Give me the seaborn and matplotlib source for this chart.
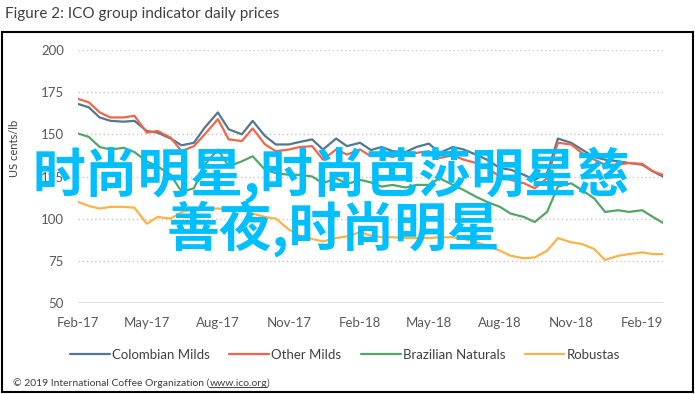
import matplotlib.pyplot as plt
import matplotlib.dates as mdates
import matplotlib.patches as mpatches
import pandas as pd
import seaborn as sns

# semi-monthly readings, 1st and 15th of each month, Feb 2017 - Feb 2019
dates = pd.date_range("2017-02-01", periods=50, freq="SMS").append(pd.DatetimeIndex(["2019-02-28"]))

colombian_milds = [168, 166, 160, 158, 157.5, 158, 152, 151, 147.5, 143.5,
                   145, 154, 163, 153, 150, 158, 149, 144, 144, 145.5,
                   147, 141, 147.5, 143, 145, 140.7, 142.5, 140, 139.5, 142.5,
                   144.5, 139, 142.5, 141, 138, 135, 130, 129, 126, 123,
                   127, 147.5, 145, 141, 136.5, 135, 134, 133, 132, 128, 125]
other_milds = [171, 169, 163, 160, 160, 161, 151, 152, 148, 140,
               143, 150, 159, 147, 146, 153.5, 144, 140, 141, 142.5,
               143, 135, 141, 138, 141, 137, 138, 136.5, 139, 139,
               140, 136, 137.5, 135, 133, 130, 125, 123, 121, 118,
               124, 145, 144, 139, 135, 132, 132, 133, 132.5, 128, 126]
brazilian_naturals = [150.5, 148.5, 142.5, 141, 142, 139.5, 134, 131, 126, 116,
                      118, 132, 141, 131, 134, 137, 129, 127, 126, 126,
                      125, 121, 124, 120.5, 123, 121.5, 119, 120, 118.5, 120,
                      120, 124, 120, 117, 113, 110, 107, 103, 101, 98,
                      104, 119, 121, 117, 112, 104, 105, 104, 105, 101, 97.5]
robustas = [110, 107.5, 106, 107, 107, 106.5, 97, 101, 100, 104,
            105.5, 106, 106, 105.5, 105, 103, 101, 100, 93.5, 90,
            88, 86.5, 88.5, 89.5, 92, 90, 89, 89, 88.5, 88.5,
            88.5, 89, 89, 88, 86, 84, 81, 78, 76.5, 77,
            81, 88.5, 86, 85, 82, 75.5, 78, 79, 80, 79, 79]

series_names = ["Colombian Milds", "Other Milds", "Brazilian Naturals", "Robustas"]
series_colors = ["#52788F", "#F26549", "#55A566", "#F9B347"]
y_ticks = [50, 75, 100, 125, 150, 175, 200]
x_ticks = pd.date_range("2017-02-01", "2019-02-01", freq="3MS")

overlay_line1 = "时尚明星,时尚芭莎明星慈"
overlay_line2 = "善夜,时尚明星"

df = pd.DataFrame({
    "date": list(dates) * 4,
    "price": colombian_milds + other_milds + brazilian_naturals + robustas,
    "series": [n for n in series_names for _ in range(len(dates))],
})

sns.set_style("white")
plt.rcParams["font.family"] = ["Lato", "Noto Sans CJK SC", "DejaVu Sans"]

W, H = 695, 394
fig = plt.figure(figsize=(W / 100, H / 100), dpi=100)
ax = fig.add_axes([78 / W, 1 - 303 / H, (663 - 78) / W, (303 - 50) / H])

sns.lineplot(data=df, x="date", y="price", hue="series", hue_order=series_names,
             palette=series_colors, linewidth=1.6, ax=ax, legend=False)

ax.set_ylim(50, 200)
ax.set_xlim(pd.Timestamp("2017-02-01"), pd.Timestamp("2019-02-28"))
ax.set_yticks(y_ticks)
ax.set_xticks(x_ticks)
ax.xaxis.set_major_formatter(mdates.DateFormatter("%b-%y"))
ax.tick_params(length=0, labelsize=9.5, colors="#595959", pad=10)
ax.set_xlabel("")
ax.set_ylabel("")
for s in ax.spines.values():
    s.set_visible(False)
for v in y_ticks[1:]:
    ax.axhline(v, color="#C8C8C8", lw=1, ls=(0, (1, 2)), zorder=0)
ax.axhline(50, color="#D9D9D9", lw=1.2, zorder=0)

fig.text(15 / W, 1 - 148 / H, "US cents/lb", rotation=90, ha="center", va="center",
         fontsize=8, color="#404040")
fig.text(5 / W, 1 - 14 / H, "Figure 2: ICO group indicator daily prices", ha="left",
         va="center", fontsize=11, color="#404040")

handles = [plt.Line2D([], [], color=c, lw=1.6) for c in series_colors]
fig.legend(handles, series_names, loc="center", ncol=4, frameon=False,
           bbox_to_anchor=(345 / W, 1 - 355 / H), fontsize=9.5, handlelength=3.0,
           handletextpad=0.15, columnspacing=1.5, labelcolor="#404040")

# copyright line, with the url underlined
t1 = fig.text(13 / W, 1 - 383 / H, "© 2019 International Coffee Organization (",
              ha="left", va="center", fontsize=7.5, color="#404040")
fig.canvas.draw()
r = fig.canvas.get_renderer()
bb = t1.get_window_extent(r)
t2 = fig.text(bb.x1 / W, 1 - 383 / H, "www.ico.org", ha="left", va="center",
              fontsize=7.5, color="#404040")
bb2 = t2.get_window_extent(r)
fig.text(bb2.x1 / W, 1 - 383 / H, ")", ha="left", va="center", fontsize=7.5, color="#404040")
fig.add_artist(plt.Line2D([bb2.x0 / W, bb2.x1 / W], [(bb2.y0 + 1) / H] * 2,
                          color="#404040", lw=0.7, transform=fig.transFigure))

fig.patches.append(mpatches.Rectangle((2 / W, 1 - 392 / H), 691 / W, 360 / H,
                                      transform=fig.transFigure, fill=False,
                                      edgecolor="black", lw=1.5))

cjk = ["Noto Sans CJK SC", "DejaVu Sans"]
fig.text(33 / W, 1 - 175 / H, overlay_line1, ha="left", va="center", fontsize=38,
         color="#00BFFF", family=cjk, fontweight="bold")
fig.text(167 / W, 1 - 229 / H, overlay_line2, ha="left", va="center", fontsize=38,
         color="#00BFFF", family=cjk, fontweight="bold")

fig.savefig("out.png", dpi=100)
